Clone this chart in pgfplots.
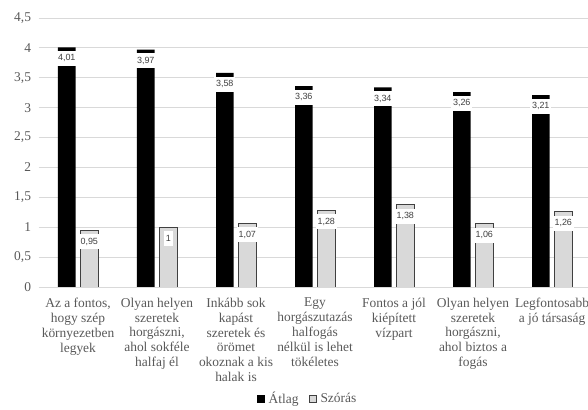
\documentclass[border=0pt]{standalone}
\usepackage{fontspec}
\setmainfont{Liberation Serif}
\setsansfont{Liberation Sans}
\usepackage{pgfplots}
\pgfplotsset{compat=1.18}
\definecolor{txtgray}{HTML}{595959}
\definecolor{lblgray}{HTML}{404040}
\definecolor{gridgray}{HTML}{D9D9D9}
\definecolor{bargray}{HTML}{D9D9D9}
\definecolor{edgegray}{HTML}{404040}

\begin{document}
\begin{tikzpicture}
\begin{axis}[
  at={(38.5bp,123bp)}, anchor=south west,
  scale only axis, width=553bp, height=269bp,
  xmin=-0.5, xmax=6.5, ymin=0, ymax=4.5,
  ybar=5bp, bar width=17.5bp,
  xtick={0,...,6},
  xticklabels={
    {Az a fontos,\\hogy szép\\környezetben\\legyek},
    {Olyan helyen\\szeretek\\horgászni,\\ahol sokféle\\halfaj él},
    {Inkább sok\\kapást\\szeretek és\\örömet\\okoznak a kis\\halak is},
    {Egy\\horgászutazás\\halfogás\\nélkül is lehet\\tökéletes},
    {Fontos a jól\\kiépített\\vízpart},
    {Olyan helyen\\szeretek\\horgászni,\\ahol biztos a\\fogás},
    {Legfontosabb\\a jó társaság}},
  ytick={0,0.5,1,1.5,2,2.5,3,3.5,4,4.5},
  ymajorgrids, major grid style={gridgray, line width=1bp},
  axis line style={draw=none},
  tick style={draw=none},
  /pgf/number format/assume math mode=true,
  /pgf/number format/use comma,
  yticklabel style={font=\fontsize{13.5}{15}\selectfont, text=txtgray, xshift=-4bp},
  xticklabel style={font=\fontsize{13.5}{15}\selectfont, text=txtgray, align=center, yshift=-3bp},
  nodes near coords,
  nodes near coords style={
    /pgf/number format/fixed, /pgf/number format/precision=2,
    font=\fontsize{9}{10}\sffamily, text=lblgray,
    anchor=north, yshift=-3.5bp, fill=white,
    inner xsep=2bp, inner ysep=3.5bp, text height=6.5bp, text depth=1.5bp},
  legend columns=2,
  legend style={at={(0.487,-0.415)}, anchor=center, draw=none,
    font=\fontsize{13.5}{15}\selectfont, text=txtgray,
    /tikz/every odd column/.append style={column sep=2bp},
    /tikz/every even column/.append style={column sep=8bp}},
  legend image code/.code={\draw[#1] (0bp,-3.5bp) rectangle (7bp,3.5bp);},
]
\addplot[fill=black, draw=none] coordinates {
  (0,4.01) (1,3.97) (2,3.58) (3,3.36) (4,3.34) (5,3.26) (6,3.21)
};
\addplot[fill=bargray, draw=edgegray, line width=1bp] coordinates {
  (0,0.95) (1,1) (2,1.07) (3,1.28) (4,1.38) (5,1.06) (6,1.26)
};
\legend{Átlag, Szórás}
\end{axis}
\pgfresetboundingbox
\path[use as bounding box] (0bp,0bp) rectangle (588bp,410bp);
\end{tikzpicture}
\end{document}
